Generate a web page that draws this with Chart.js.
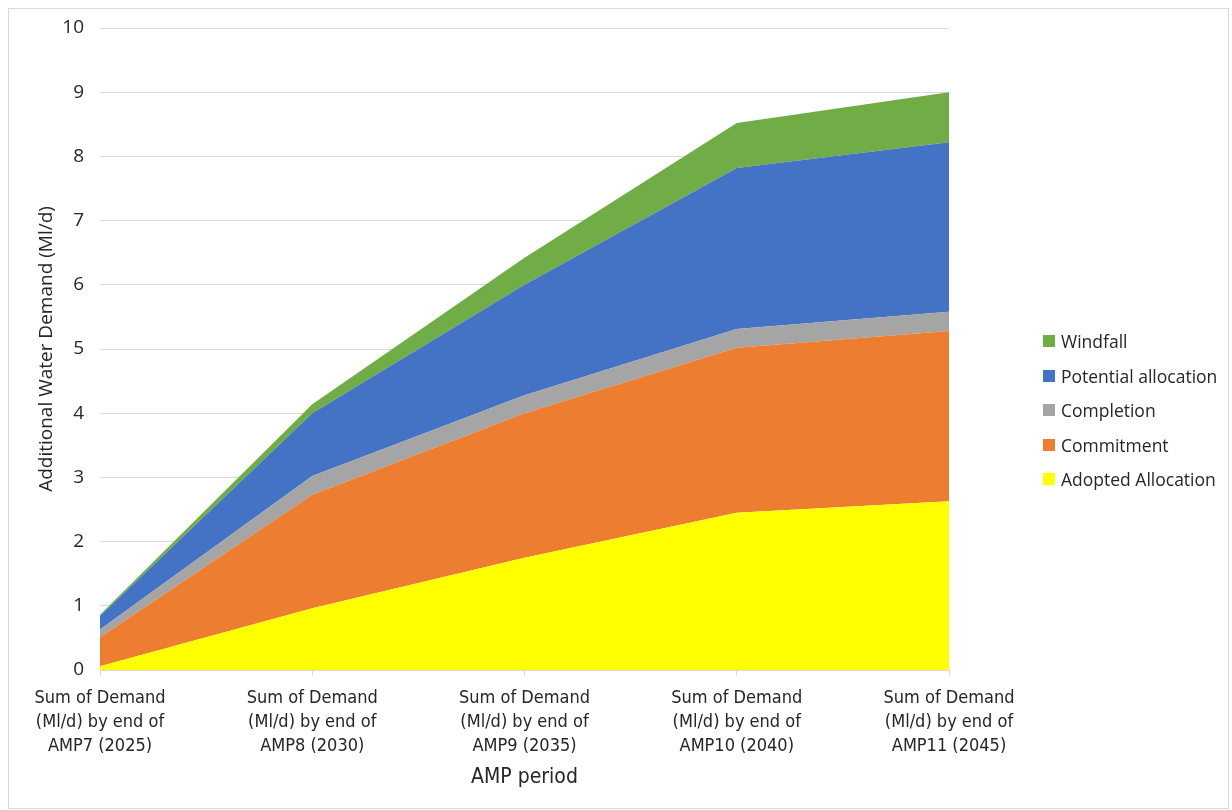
<!DOCTYPE html>
<html>
<head>
<meta charset="utf-8">
<script src="https://cdn.jsdelivr.net/npm/chart.js@4.4.1/dist/chart.umd.min.js"></script>
<style>
    html, body { margin: 0; padding: 0; background: #fff; }
    #wrap { position: relative; width: 1232px; height: 810px; }
    #frame { position: absolute; left: 8px; top: 8px; width: 1221px; height: 801px; border: 1px solid #d9d9d9; box-sizing: border-box; pointer-events: none; }
    #legend { position: absolute; left: 1043px; top: 324px; font-family: 'Open Sans', 'Noto Sans', sans-serif; font-size: 17.5px; color: #262626; }
    #legend div { height: 34.5px; display: flex; align-items: center; }
    #legend span.box { display: inline-block; width: 12px; height: 12px; margin-right: 6px; }
</style>
</head>
<body>
<div id="wrap">
    <canvas id="areaChart" width="1232" height="810"></canvas>
    <div id="legend"></div>
    <div id="frame"></div>
</div>
<script>
// Categories (AMP periods)
const categories = [
    ['Sum of Demand', '(Ml/d) by end of', 'AMP7 (2025)'],
    ['Sum of Demand', '(Ml/d) by end of', 'AMP8 (2030)'],
    ['Sum of Demand', '(Ml/d) by end of', 'AMP9 (2035)'],
    ['Sum of Demand', '(Ml/d) by end of', 'AMP10 (2040)'],
    ['Sum of Demand', '(Ml/d) by end of', 'AMP11 (2045)']
];

// Series values (Ml/d), stacked bottom to top
const adoptedAllocation = [0.06, 0.96, 1.75, 2.45, 2.63];
const commitment = [0.45, 1.77, 2.25, 2.57, 2.65];
const completion = [0.12, 0.29, 0.28, 0.29, 0.30];
const potentialAllocation = [0.21, 0.98, 1.72, 2.51, 2.64];
const windfall = [0.02, 0.14, 0.42, 0.70, 0.78];

const yTicks = [0, 1, 2, 3, 4, 5, 6, 7, 8, 9, 10];

const seriesNames = ['Adopted Allocation', 'Commitment', 'Completion', 'Potential allocation', 'Windfall'];
const seriesData = [adoptedAllocation, commitment, completion, potentialAllocation, windfall];
const seriesColors = ['#FFFF00', '#ED7D31', '#A5A5A5', '#4472C4', '#70AD47'];

const textColor = '#262626';
const gridColor = '#d9d9d9';

function buildDatasets() {
    return seriesNames.map((name, i) => ({
        label: name,
        data: seriesData[i],
        backgroundColor: seriesColors[i],
        borderWidth: 0,
        pointRadius: 0,
        tension: 0,
        fill: i === 0 ? 'origin' : '-1'
    }));
}

function renderLegend() {
    const el = document.getElementById('legend');
    // Legend lists series top to bottom
    el.innerHTML = seriesNames.map((name, i) => ({ name, color: seriesColors[i] }))
        .reverse()
        .map(item => `<div><span class="box" style="background:${item.color}"></span>${item.name}</div>`)
        .join('');
}

function createChart() {
    const ctx = document.getElementById('areaChart');
    new Chart(ctx, {
        type: 'line',
        data: {
            labels: categories,
            datasets: buildDatasets()
        },
        options: {
            responsive: false,
            animation: false,
            layout: {
                padding: { left: 35, right: 283, top: 28, bottom: 20 }
            },
            plugins: {
                legend: { display: false },
                tooltip: { enabled: false }
            },
            scales: {
                x: {
                    offset: false,
                    afterFit: scale => { scale.height = 120; },
                    grid: {
                        drawOnChartArea: false,
                        drawTicks: true,
                        tickLength: 6,
                        color: gridColor
                    },
                    border: { color: gridColor },
                    ticks: {
                        color: textColor,
                        maxRotation: 0,
                        autoSkip: false,
                        padding: 10,
                        font: { family: "'Liberation Sans Narrow', 'DejaVu Sans Condensed', sans-serif", size: 18, lineHeight: 1.34 }
                    },
                    title: {
                        display: true,
                        text: 'AMP period',
                        color: textColor,
                        padding: { top: 0, bottom: 0 },
                        font: { family: "'Liberation Sans Narrow', 'DejaVu Sans Condensed', sans-serif", size: 21 }
                    }
                },
                y: {
                    stacked: true,
                    min: 0,
                    max: 10,
                    afterFit: scale => { scale.width = 65; },
                    afterBuildTicks: scale => { scale.ticks = yTicks.map(v => ({ value: v })); },
                    grid: {
                        color: gridColor,
                        drawTicks: false
                    },
                    border: { display: false },
                    ticks: {
                        color: textColor,
                        padding: 16,
                        font: { family: "'Open Sans', 'Noto Sans', sans-serif", size: 19 }
                    },
                    title: {
                        display: true,
                        text: 'Additional Water Demand (Ml/d)',
                        color: textColor,
                        padding: { top: 0, bottom: 0 },
                        font: { family: "'Open Sans', 'Noto Sans', sans-serif", size: 19 }
                    }
                }
            }
        }
    });
}

renderLegend();
createChart();
</script>
</body>
</html>
